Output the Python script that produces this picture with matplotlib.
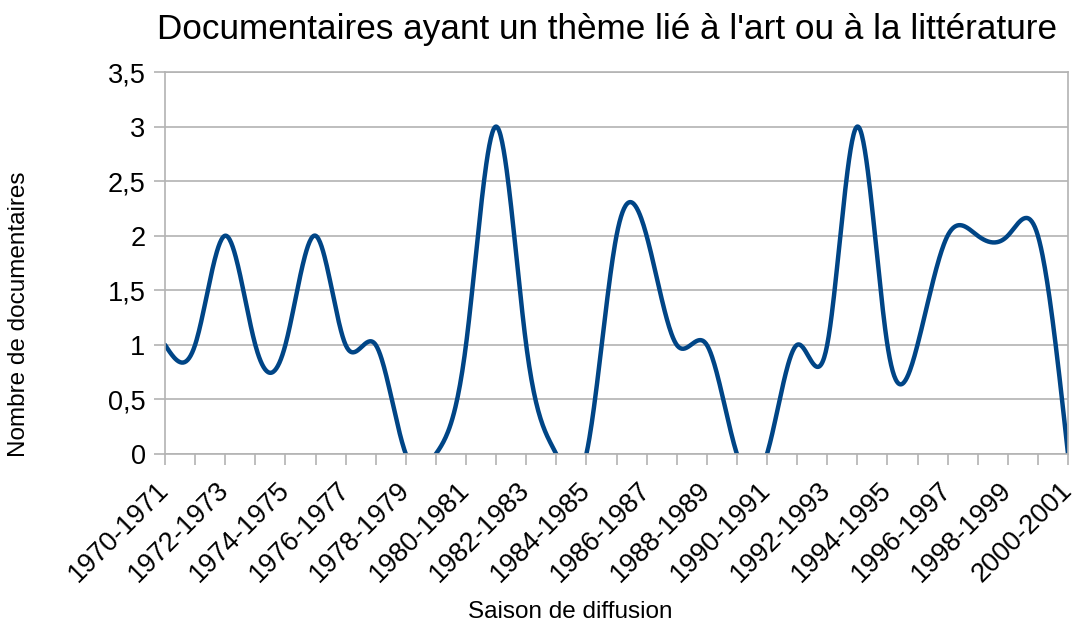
import numpy as np
import matplotlib
matplotlib.use("Agg")
import matplotlib.pyplot as plt
import matplotlib.transforms as mtransforms

plt.rcParams['font.family'] = ['Liberation Sans', 'DejaVu Sans']

# saisons 1970-1971 .. 2000-2001
saisons = [f"{y}-{y + 1}" for y in range(1970, 2001)]
documentaires = [1, 1, 2, 1, 1, 2, 1, 1, 0, 0,
                 1, 3, 1, 0, 0, 2, 2, 1, 1, 0,
                 0, 1, 1, 3, 1, 1, 2, 2, 2, 2, 0]


def natural_spline(x, y, n=40):
    # courbe lissée comme dans le tableur (spline cubique naturelle)
    x = np.asarray(x, float)
    y = np.asarray(y, float)
    k = len(x)
    h = np.diff(x)
    A = np.zeros((k, k))
    b = np.zeros(k)
    A[0, 0] = A[-1, -1] = 1
    for i in range(1, k - 1):
        A[i, i - 1] = h[i - 1]
        A[i, i] = 2 * (h[i - 1] + h[i])
        A[i, i + 1] = h[i]
        b[i] = 6 * ((y[i + 1] - y[i]) / h[i] - (y[i] - y[i - 1]) / h[i - 1])
    M = np.linalg.solve(A, b)
    xs, ys = [], []
    for i in range(k - 1):
        t = np.linspace(x[i], x[i + 1], n, endpoint=(i == k - 2))
        a = x[i + 1] - t
        c = t - x[i]
        s = (M[i] * a ** 3 + M[i + 1] * c ** 3) / (6 * h[i]) \
            + (y[i] / h[i] - M[i] * h[i] / 6) * a \
            + (y[i + 1] / h[i] - M[i + 1] * h[i] / 6) * c
        xs.append(t)
        ys.append(s)
    return np.concatenate(xs), np.concatenate(ys)


W, H = 1077, 626
fig = plt.figure(figsize=(W / 100, H / 100), dpi=100)
ax = fig.add_axes([165 / W, 1 - 454 / H, (1068 - 165) / W, (454 - 72) / H])

pos = np.arange(len(saisons))
sx, sy = natural_spline(pos, documentaires)
ax.plot(sx, sy, color='#004586', lw=3.2, solid_capstyle='round')

ax.set_xlim(0, len(saisons) - 1)
ax.set_ylim(0, 3.5)
yt = np.arange(0, 3.51, 0.5)
ax.set_yticks(yt)
ax.set_yticklabels([f"{v:g}".replace('.', ',') for v in yt], fontsize=19.5)
ax.set_xticks(pos)
ax.set_xticklabels([s if i % 2 == 0 else '' for i, s in enumerate(saisons)],
                   rotation=45, ha='right', va='center', rotation_mode='anchor',
                   fontsize=19.5)
shift = mtransforms.ScaledTranslation(-3 / 100, 0, fig.dpi_scale_trans)
for lab in ax.get_xticklabels():
    lab.set_transform(lab.get_transform() + shift)

ax.grid(axis='y', color='#b3b3b3', lw=1.2)
ax.set_axisbelow(True)
for sp in ax.spines.values():
    sp.set_color('#b3b3b3')
    sp.set_linewidth(1.2)
ax.tick_params(axis='both', color='#b3b3b3', width=1.2, length=8)
ax.tick_params(axis='x', pad=15)
ax.tick_params(axis='y', pad=6)

fig.text(607 / W, 1 - 39 / H,
         "Documentaires ayant un thème lié à l'art ou à la littérature",
         fontsize=25.3, ha='center', va='baseline')
fig.text(570 / W, 1 - 612 / H, "Saison de diffusion", fontsize=17.5,
         ha='center', va='center')
fig.text(19 / W, 1 - 314 / H, "Nombre de documentaires", fontsize=17.5,
         ha='center', va='center', rotation=90)

fig.savefig("out.png", dpi=100)
